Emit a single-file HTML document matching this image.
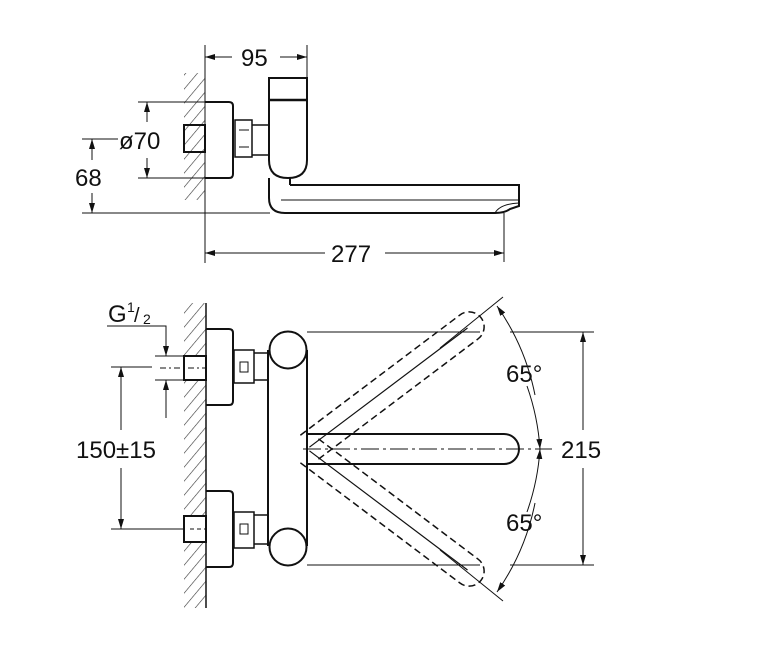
<!DOCTYPE html>
<html><head><meta charset="utf-8"><style>
html,body{margin:0;padding:0;background:#fff}
svg{display:block}
text{font-family:"Liberation Sans",Arial,sans-serif;fill:#111}
</style></head><body>
<svg width="780" height="650" viewBox="0 0 780 650" xmlns="http://www.w3.org/2000/svg">
<defs>
<pattern id="h" width="9" height="9" patternUnits="userSpaceOnUse" patternTransform="rotate(40)">
<line x1="0" y1="0" x2="0" y2="9" stroke="#333" stroke-width="1.2"/>
</pattern>
<marker id="a" markerWidth="10" markerHeight="8" refX="10" refY="4" orient="auto" markerUnits="userSpaceOnUse">
<path d="M0,1 L10,4 L0,7 Z" fill="#111"/>
</marker>
</defs>
<g stroke="#111" fill="none" stroke-width="1">
<!-- TOP VIEW -->
<rect x="184" y="73" width="21" height="127" fill="url(#h)" stroke="none"/>
<line x1="205" y1="45" x2="205" y2="263"/>
<line x1="307" y1="45" x2="307" y2="78"/>
<line x1="232" y1="57" x2="205" y2="57" marker-end="url(#a)"/>
<line x1="280" y1="57" x2="307" y2="57" marker-end="url(#a)"/>
<path d="M205,102 H229 Q233,102 233,106 V174 Q233,178 229,178 H205" stroke-width="2"/>
<rect x="184" y="125" width="21" height="27" stroke-width="2"/>
<rect x="235" y="120" width="17" height="37" stroke-width="1.5"/>
<line x1="239" y1="130" x2="249" y2="130"/><line x1="239" y1="147" x2="249" y2="147"/>
<path d="M252,125 H269 M252,155 H269" stroke-width="1.5"/>
<path d="M269,78 H307 V160 Q307,178 288,178 Q269,178 269,160 Z" stroke-width="2"/>
<line x1="269" y1="100" x2="307" y2="100" stroke-width="2.5"/>
<path d="M269,178 V198 Q269,213 285,213 H495 Q505,213 510,209 L519,206 V185 H290 M290,185 V178" stroke-width="2"/>
<line x1="281" y1="200" x2="519" y2="200"/>
<path d="M495,213 Q500,204 519,203"/>
<!-- ø70 -->
<line x1="138" y1="102" x2="205" y2="102"/><line x1="138" y1="178" x2="205" y2="178"/>
<line x1="147" y1="122" x2="147" y2="102" marker-end="url(#a)"/>
<line x1="147" y1="158" x2="147" y2="178" marker-end="url(#a)"/>
<!-- 68 -->
<line x1="82" y1="139" x2="118" y2="139"/>
<line x1="82" y1="213" x2="270" y2="213"/>
<line x1="92" y1="160" x2="92" y2="139" marker-end="url(#a)"/>
<line x1="92" y1="193" x2="92" y2="213" marker-end="url(#a)"/>
<!-- 277 -->
<line x1="504" y1="213" x2="504" y2="262"/>
<line x1="325" y1="253" x2="205" y2="253" marker-end="url(#a)"/>
<line x1="385" y1="253" x2="504" y2="253" marker-end="url(#a)"/>

<!-- BOTTOM VIEW -->
<rect x="184" y="303" width="22" height="305" fill="url(#h)" stroke="none"/>
<line x1="206" y1="303" x2="206" y2="608" stroke-width="1.5"/>
<path d="M206,329 H229 Q233,329 233,333 V401 Q233,405 229,405 H206" stroke-width="2"/>
<rect x="184" y="356" width="22" height="24" stroke-width="2" fill="#fff"/>
<rect x="234" y="350" width="20" height="33" stroke-width="1.5"/>
<rect x="240" y="362" width="8" height="10"/>
<path d="M254,353 H268 M254,380 H268" stroke-width="1.5"/>
<path d="M206,491 H229 Q233,491 233,495 V563 Q233,567 229,567 H206" stroke-width="2"/>
<rect x="184" y="516" width="22" height="26" stroke-width="2" fill="#fff"/>
<rect x="234" y="512" width="20" height="36" stroke-width="1.5"/>
<rect x="240" y="524" width="8" height="10"/>
<path d="M254,515 H268 M254,544 H268" stroke-width="1.5"/>
<line x1="268" y1="350" x2="268" y2="546" stroke-width="2"/>
<line x1="307" y1="350" x2="307" y2="546" stroke-width="2"/>
<circle cx="288" cy="350" r="18.5" fill="#fff" stroke-width="2"/>
<circle cx="288" cy="547" r="18.5" fill="#fff" stroke-width="2"/>
<path d="M307,434 H504 A15,15 0 0 1 504,464 H307" stroke-width="2"/>
<line x1="303" y1="449" x2="552" y2="449" stroke-dasharray="18,4,3,4"/>
<g transform="rotate(-37 307 449)" stroke-dasharray="7,4" stroke-width="1.5">
<path d="M310,434 H510 A15,15 0 0 1 510,464 H310"/>
<line x1="310" y1="449" x2="508" y2="449" stroke-dasharray="none" stroke-width="1.2"/>
</g>
<g transform="rotate(37 307 449)" stroke-dasharray="7,4" stroke-width="1.5">
<path d="M310,434 H510 A15,15 0 0 1 510,464 H310"/>
<line x1="310" y1="449" x2="508" y2="449" stroke-dasharray="none" stroke-width="1.2"/>
</g>
<line x1="440" y1="348" x2="503" y2="297"/>
<line x1="440" y1="550" x2="503" y2="601"/>
<path d="M535,395 A236,236 0 0 0 497,306" marker-end="url(#a)"/>
<path d="M527,386 A236,236 0 0 1 540,449" marker-end="url(#a)"/>
<path d="M527,512 A236,236 0 0 0 540,449" marker-end="url(#a)"/>
<path d="M535,503 A236,236 0 0 1 497,592" marker-end="url(#a)"/>
<line x1="307" y1="332" x2="480" y2="332"/><line x1="510" y1="332" x2="594" y2="332"/>
<line x1="307" y1="565" x2="480" y2="565"/><line x1="510" y1="565" x2="594" y2="565"/>
<line x1="583" y1="430" x2="583" y2="332" marker-end="url(#a)"/>
<line x1="583" y1="468" x2="583" y2="565" marker-end="url(#a)"/>
<line x1="111" y1="367" x2="152" y2="367"/>
<line x1="160" y1="368" x2="206" y2="368" stroke-dasharray="6,3,2,3"/>
<line x1="111" y1="529" x2="184" y2="529"/>
<line x1="190" y1="529" x2="206" y2="529" stroke-dasharray="4,3"/>
<line x1="121" y1="430" x2="121" y2="367" marker-end="url(#a)"/>
<line x1="121" y1="468" x2="121" y2="529" marker-end="url(#a)"/>
<path d="M107,326 H166 V356" marker-end="url(#a)"/>
<line x1="155" y1="356" x2="184" y2="356"/>
<line x1="155" y1="380" x2="184" y2="380"/>
<line x1="166" y1="418" x2="166" y2="380" marker-end="url(#a)"/>
</g>
<g font-size="24">
<text x="241" y="66">95</text>
<text x="119" y="149">ø70</text>
<text x="75" y="186">68</text>
<text x="331" y="262">277</text>
<text x="108" y="322">G</text>
<text x="127" y="312" font-size="14">1</text>
<text x="134" y="322" font-size="20">/</text>
<text x="143" y="324" font-size="14">2</text>
<rect x="75" y="436" width="90" height="26" fill="#fff"/>
<text x="76" y="458">150±15</text>
<rect x="558" y="435" width="52" height="26" fill="#fff"/>
<text x="561" y="458">215</text>
<text x="506" y="382">65°</text>
<text x="506" y="531">65°</text>
</g>
</svg>
</body></html>
